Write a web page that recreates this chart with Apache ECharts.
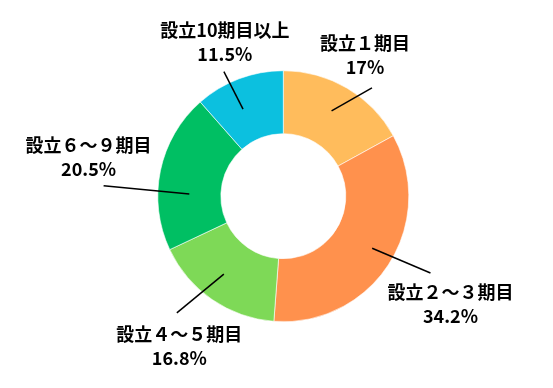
<!DOCTYPE html>
<html>
<head>
<meta charset="utf-8">
<script src="https://cdn.jsdelivr.net/npm/echarts@6/dist/echarts.min.js"></script>
<style>
html,body{margin:0;padding:0;background:#fff;}
#chart{width:553px;height:388px;}
</style>
</head>
<body>
<div id="chart"></div>
<script>
// ---- data ----
const categories = ['設立１期目', '設立２～３期目', '設立４～５期目', '設立６～９期目', '設立10期目以上'];
const shares = [17, 34.2, 16.8, 20.5, 11.5];

// ---- style ----
const colors = ['#FFBC5C', '#FF914D', '#7ED957', '#00BF63', '#0CC0DF'];
const CX = 283.3, CY = 196.2, R_IN = 62.5, R_OUT = 125.5;
// leader line geometry relative to each slice's mid angle: [dAngleStart, rStart, dAngleEnd, rEnd]
const leaders = [
  [-1.1, 98, 8.7, 140],
  [-2.4, 103, -5.2, 166],
  [2.8, 98, 7.8, 158],
  [-10.4, 94, -8.4, 180],
  [-4.1, 96, -4.8, 138]
];
// label centre offset from leader end
const labelOffsets = [[-7, -33], [20, 31], [2.5, 33], [-15, -29], [1, -29]];

const total = shares.reduce((a, b) => a + b, 0);
function midAngle(i) {
  let s = 0;
  for (let k = 0; k < i; k++) s += shares[k];
  return (s + shares[i] / 2) / total * 360;
}
function polar(deg, r) {
  const t = deg * Math.PI / 180;
  return [CX + r * Math.sin(t), CY - r * Math.cos(t)];
}

const pieData = categories.map((c, i) => ({name: c, value: shares[i]}));

const chart = echarts.init(document.getElementById('chart'), null, {renderer: 'canvas'});
chart.setOption({
  animation: false,
  backgroundColor: '#ffffff',
  series: [{
    type: 'pie',
    z: 1,
    center: [CX, CY],
    radius: [R_IN, R_OUT],
    startAngle: 90,
    clockwise: true,
    itemStyle: {borderColor: '#ffffff', borderWidth: 0.6},
    data: pieData.map((d, i) => ({name: d.name, value: d.value, itemStyle: {color: colors[i]}})),
    label: {show: false},
    labelLine: {show: false},
    emphasis: {disabled: true},
    silent: true
  }, {
    type: 'pie',
    z: 5,
    center: [CX, CY],
    radius: [R_IN, R_OUT],
    startAngle: 90,
    clockwise: true,
    avoidLabelOverlap: false,
    silent: true,
    itemStyle: {color: 'rgba(0,0,0,0)'},
    data: pieData,
    label: {
      show: true,
      position: 'outside',
      formatter: p => p.name + '\n' + p.value + '%',
      fontFamily: '"Noto Sans CJK JP", "Noto Sans", sans-serif',
      fontWeight: 'bold',
      fontSize: 18,
      lineHeight: 24,
      color: '#000000',
      align: 'center'
    },
    labelLine: {show: true, length: 20, length2: 0, lineStyle: {color: '#000000', width: 1.5}},
    emphasis: {disabled: true},
    labelLayout: function (params) {
      const i = params.dataIndex;
      const m = midAngle(i);
      const L = leaders[i];
      const p0 = polar(m + L[0], L[1]);
      const p1 = polar(m + L[2], L[3]);
      const o = labelOffsets[i];
      return {
        x: p1[0] + o[0],
        y: p1[1] + o[1],
        align: 'center',
        verticalAlign: 'middle',
        labelLinePoints: [p0, p1, p1]
      };
    }
  }]
});
</script>
</body>
</html>
